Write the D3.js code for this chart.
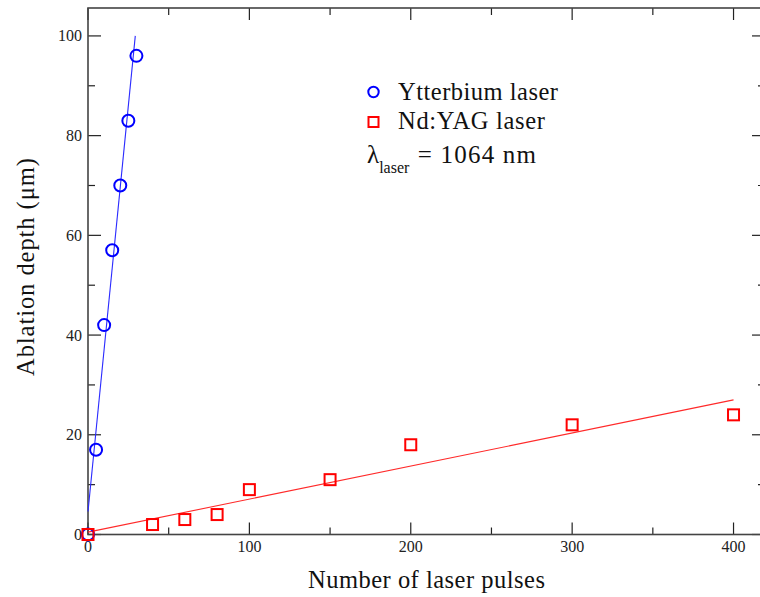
<!DOCTYPE html>
<html><head><meta charset="utf-8">
<script src="https://cdn.jsdelivr.net/npm/d3@7"></script>
<style>body{margin:0;background:#fff}svg{display:block}</style>
</head><body><svg id="c" width="760" height="597"></svg>
<script>
const ybPulses = [0, 5, 10, 15, 20, 25, 30];
const ybDepth  = [0, 17, 42, 57, 70, 83, 96];
const ndPulses = [0, 40, 60, 80, 100, 150, 200, 300, 400];
const ndDepth  = [0, 2, 3, 4, 9, 11, 18, 22, 24];
const ybFitX = [0, 29.3];
const ybFitY = [4.6, 100];
const ndFitX = [0, 400];
const ndFitY = [0.47, 27];
const xTicks = [0, 100, 200, 300, 400];
const yTicks = [0, 20, 40, 60, 80, 100];
const xMinor = [50, 150, 250, 350];
const yMinor = [10, 30, 50, 70, 90];
const xDomain = [0, 419.5];
const yDomain = [0, 105.6];

const svg = d3.select("#c");
const L = 88, R = 765, T = 8, B = 534.5;
const x = d3.scaleLinear().domain(xDomain).range([L, R]);
const y = d3.scaleLinear().domain(yDomain).range([B, T]);
const serif = "Liberation Serif, Times New Roman, serif";

// ticks (inward) on all four sides
const tk = svg.append("g").attr("stroke", "#222").attr("stroke-width", 1.2);
xTicks.forEach(v => {
  tk.append("line").attr("x1", x(v)).attr("x2", x(v)).attr("y1", B).attr("y2", B - 12);
  tk.append("line").attr("x1", x(v)).attr("x2", x(v)).attr("y1", T).attr("y2", T + 12);
});
xMinor.forEach(v => {
  tk.append("line").attr("x1", x(v)).attr("x2", x(v)).attr("y1", B).attr("y2", B - 7);
  tk.append("line").attr("x1", x(v)).attr("x2", x(v)).attr("y1", T).attr("y2", T + 7);
});
yTicks.forEach(v => {
  tk.append("line").attr("y1", y(v)).attr("y2", y(v)).attr("x1", L).attr("x2", L + 13);
  tk.append("line").attr("y1", y(v)).attr("y2", y(v)).attr("x1", R).attr("x2", R - 13);
});
yMinor.forEach(v => {
  tk.append("line").attr("y1", y(v)).attr("y2", y(v)).attr("x1", L).attr("x2", L + 7);
  tk.append("line").attr("y1", y(v)).attr("y2", y(v)).attr("x1", R).attr("x2", R - 7);
});

// frame
svg.append("rect").attr("x", L).attr("y", T).attr("width", R - L).attr("height", B - T)
  .attr("fill", "none").attr("stroke", "#444").attr("stroke-width", 1.6);

// tick labels
svg.append("g").selectAll("text").data(xTicks).join("text")
  .attr("x", d => x(d)).attr("y", 552).attr("text-anchor", "middle")
  .style("font-family", serif).attr("font-size", 16).attr("fill", "#222").text(d => d);
svg.append("g").selectAll("text").data(yTicks).join("text")
  .attr("x", 82).attr("y", d => y(d) + 5.5).attr("text-anchor", "end")
  .style("font-family", serif).attr("font-size", 16).attr("fill", "#222").text(d => d);

// axis titles
svg.append("text").attr("x", 308).attr("y", 588)
  .attr("textLength", 237).attr("lengthAdjust", "spacing")
  .style("font-family", serif).attr("font-size", 24.5).attr("fill", "#111").text("Number of laser pulses");
svg.append("text").attr("transform", "translate(34,376) rotate(-90)")
  .attr("textLength", 218).attr("lengthAdjust", "spacing")
  .style("font-family", serif).attr("font-size", 24.5).attr("fill", "#111").text("Ablation depth (\u03bcm)");

// fit lines
const line = d3.line().x(d => x(d[0])).y(d => y(d[1]));
svg.append("path").datum(d3.zip(ybFitX, ybFitY)).attr("d", line)
  .attr("fill", "none").attr("stroke", "#2a2aff").attr("stroke-width", 1.1);
svg.append("path").datum(d3.zip(ndFitX, ndFitY)).attr("d", line)
  .attr("fill", "none").attr("stroke", "#ff2a2a").attr("stroke-width", 1.1);

// markers
svg.append("g").selectAll("circle").data(d3.zip(ybPulses, ybDepth)).join("circle")
  .attr("cx", d => x(d[0])).attr("cy", d => y(d[1])).attr("r", 6)
  .attr("fill", "none").attr("stroke", "#0000ff").attr("stroke-width", 2);
svg.append("g").selectAll("rect").data(d3.zip(ndPulses, ndDepth)).join("rect")
  .attr("x", d => x(d[0]) - 5.5).attr("y", d => y(d[1]) - 5.5).attr("width", 11).attr("height", 11)
  .attr("fill", "none").attr("stroke", "#ff0000").attr("stroke-width", 2);

// legend
svg.append("circle").attr("cx", 373.5).attr("cy", 92).attr("r", 5.2)
  .attr("fill", "none").attr("stroke", "#0000ff").attr("stroke-width", 2);
svg.append("rect").attr("x", 368.5).attr("y", 117).attr("width", 10).attr("height", 10)
  .attr("fill", "none").attr("stroke", "#ff0000").attr("stroke-width", 2);
svg.append("text").attr("x", 398).attr("y", 100).style("font-family", serif).attr("font-size", 24.5)
  .attr("textLength", 160).attr("lengthAdjust", "spacing")
  .attr("fill", "#111").text("Ytterbium laser");
svg.append("text").attr("x", 398).attr("y", 129).style("font-family", serif).attr("font-size", 24.5)
  .attr("textLength", 147).attr("lengthAdjust", "spacing")
  .attr("fill", "#111").text("Nd:YAG laser");
const lam = svg.append("text").attr("x", 367).attr("y", 163).style("font-family", serif)
  .attr("font-size", 25).attr("fill", "#111");
lam.append("tspan").text("\u03bb");
lam.append("tspan").attr("font-size", 16).attr("dy", 10).text("laser");
lam.append("tspan").attr("dy", -10).attr("dx", 1).style("letter-spacing", "1.2px").text(" = 1064 nm");
</script></body></html>
